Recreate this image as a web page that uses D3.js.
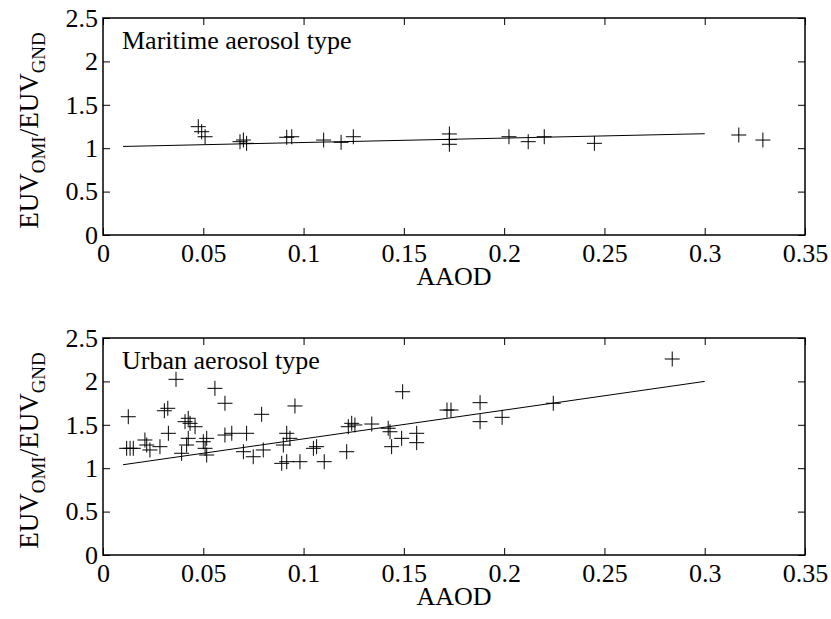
<!DOCTYPE html>
<html>
<head>
<meta charset="utf-8">
<script src="https://d3js.org/d3.v7.min.js"></script>
<style>
  body { margin: 0; background: #fff; }
  .tick line { stroke: #000; stroke-width: 1; }
  .domain { display: none; }
</style>
</head>
<body>
<div id="chart"></div>
<script>
// ---- data ----
var xTicks = [0, 0.05, 0.1, 0.15, 0.2, 0.25, 0.3, 0.35];
var yTicks = [0, 0.5, 1, 1.5, 2, 2.5];

// maritime aerosol type
var mariAAOD = [0.0475, 0.0492, 0.0509, 0.0683, 0.070, 0.0716, 0.0916, 0.0941, 0.110, 0.1187,
                0.1248, 0.1727, 0.1727, 0.1727, 0.2024, 0.212, 0.220, 0.245, 0.317, 0.329];
var mariRatio = [1.248, 1.19, 1.132, 1.075, 1.094, 1.056, 1.126, 1.132, 1.094, 1.068,
                 1.132, 1.164, 1.10, 1.045, 1.132, 1.075, 1.132, 1.056, 1.152, 1.094];
var mariFitX = [0.01, 0.3];
var mariFitY = [1.02, 1.167];

// urban aerosol type
var urbAAOD = [0.0126, 0.0306, 0.0323, 0.0364, 0.0558, 0.0608, 0.0118, 0.0135, 0.0151, 0.0209,
               0.0218, 0.0234, 0.0284, 0.0326, 0.0392, 0.0409, 0.0425, 0.0434, 0.0417, 0.0425,
               0.0459, 0.0500, 0.0509, 0.0517, 0.0608, 0.0642, 0.0716, 0.0791, 0.0957, 0.0700,
               0.0749, 0.0799, 0.0899, 0.0916, 0.0932, 0.0891, 0.0916, 0.0982, 0.1103, 0.1049,
               0.1065, 0.1223, 0.1240, 0.1215, 0.1256, 0.134, 0.1422, 0.1431, 0.1489, 0.1439,
               0.1564, 0.1564, 0.1494, 0.1715, 0.1735, 0.188, 0.188, 0.199, 0.2245, 0.2838,
               0.0517];
var urbRatio = [1.593, 1.662, 1.690, 2.024, 1.920, 1.748, 1.229, 1.229, 1.229, 1.325,
                1.267, 1.210, 1.248, 1.402, 1.172, 1.536, 1.575, 1.517, 1.267, 1.344,
                1.478, 1.305, 1.229, 1.152, 1.382, 1.402, 1.402, 1.621, 1.717, 1.190,
                1.132, 1.210, 1.267, 1.402, 1.344, 1.056, 1.075, 1.075, 1.075, 1.229,
                1.248, 1.478, 1.517, 1.190, 1.498, 1.509, 1.460, 1.420, 1.344, 1.248,
                1.402, 1.294, 1.881, 1.670, 1.670, 1.755, 1.536, 1.586, 1.748, 2.258,
                1.344];
var urbFitX = [0.01, 0.3];
var urbFitY = [1.04, 2.0];

var W = 831, H = 619;
var svg = d3.select("#chart").append("svg")
    .attr("width", W).attr("height", H);

var left = 103, right = 805, plotH = 217;
var serif = "'Liberation Serif', 'Times New Roman', Times, serif";

function panel(top, title, xs, ys, fx, fy) {
    var x = d3.scaleLinear().domain([0, 0.35]).range([left, right]);
    var y = d3.scaleLinear().domain([0, 2.5]).range([top + plotH, top]);
    var fmt = function (d) { return String(+d.toFixed(2)); };

    var g = svg.append("g");

    // axes with inward ticks (MATLAB style)
    g.append("g").attr("transform", "translate(0," + (top + plotH) + ")")
        .call(d3.axisBottom(x).tickValues(xTicks).tickFormat(fmt).tickSizeInner(-7).tickSizeOuter(0).tickPadding(9));
    g.append("g").attr("transform", "translate(0," + top + ")")
        .call(d3.axisTop(x).tickValues(xTicks).tickFormat("").tickSizeInner(-7).tickSizeOuter(0));
    g.append("g").attr("transform", "translate(" + left + ",0)")
        .call(d3.axisLeft(y).tickValues(yTicks).tickFormat(fmt).tickSizeInner(-7).tickSizeOuter(0).tickPadding(5));
    g.append("g").attr("transform", "translate(" + right + ",0)")
        .call(d3.axisRight(y).tickValues(yTicks).tickFormat("").tickSizeInner(-7).tickSizeOuter(0));

    g.selectAll(".tick text")
        .style("font-family", serif).style("font-size", "26px").style("fill", "#000");

    // box
    g.append("rect")
        .attr("x", left).attr("y", top)
        .attr("width", right - left).attr("height", plotH)
        .attr("fill", "none").attr("stroke", "#000").attr("stroke-width", 1.5);

    // fit line
    g.append("line")
        .attr("x1", x(fx[0])).attr("y1", y(fy[0]))
        .attr("x2", x(fx[1])).attr("y2", y(fy[1]))
        .attr("stroke", "#000").attr("stroke-width", 1);

    // + markers
    var s = 7.5;
    var pts = xs.map(function (d, i) { return [d, ys[i]]; });
    g.selectAll(".pt").data(pts).enter().append("path")
        .attr("class", "pt")
        .attr("d", function (d) {
            var cx = x(d[0]), cy = y(d[1]);
            return "M" + (cx - s) + "," + cy + "H" + (cx + s) + "M" + cx + "," + (cy - s) + "V" + (cy + s);
        })
        .attr("stroke", "#000").attr("stroke-width", 1).attr("fill", "none");

    // title
    g.append("text").attr("x", left + 19).attr("y", top + 31)
        .style("font-family", serif).style("font-size", "26px").text(title);

    // x label
    g.append("text").attr("x", (left + right) / 2).attr("y", top + plotH + 50)
        .attr("text-anchor", "middle")
        .style("font-family", serif).style("font-size", "26px").text("AAOD");

    // y label
    var yl = g.append("text")
        .attr("transform", "translate(" + 38 + "," + (top + plotH / 2 + 4) + ") rotate(-90)")
        .attr("text-anchor", "middle")
        .style("font-family", serif).style("font-size", "27px");
    yl.append("tspan").text("EUV");
    yl.append("tspan").attr("dy", 7).style("font-size", "19px").text("OMI");
    yl.append("tspan").attr("dy", -7).text("/EUV");
    yl.append("tspan").attr("dy", 7).style("font-size", "19px").text("GND");
}

panel(18, "Maritime aerosol type", mariAAOD, mariRatio, mariFitX, mariFitY);
panel(338, "Urban aerosol type", urbAAOD, urbRatio, urbFitX, urbFitY);
</script>
</body>
</html>
